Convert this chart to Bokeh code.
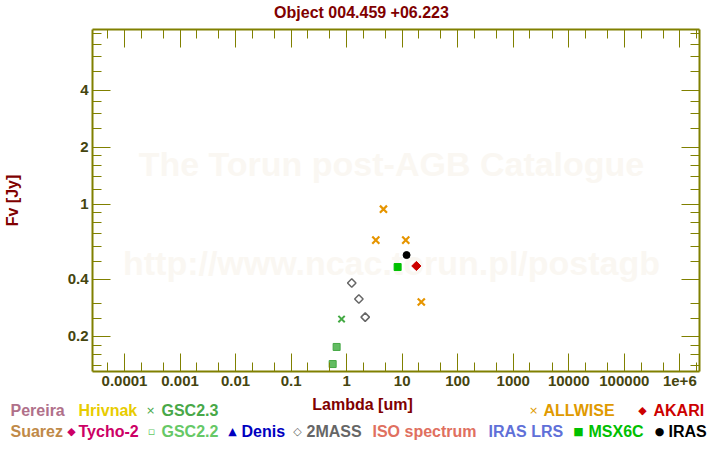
import math
from bokeh.plotting import figure
from bokeh.layouts import column
from bokeh.models import (Range1d, LogAxis, FixedTicker, CustomJSTickFormatter, Label,
                          ColumnDataSource)
from bokeh.core.properties import value
from bokeh.embed import file_html
from bokeh.resources import INLINE

# ---------------- data ----------------
title_text = "Object 004.459 +06.223"
x_label = "Lambda [um]"
y_label = "Fv [Jy]"
watermark_lines = ["The Torun post-AGB Catalogue", "http://www.ncac.torun.pl/postagb"]

x_tick_values = [1e-4, 1e-3, 1e-2, 1e-1, 1, 10, 100, 1e3, 1e4, 1e5, 1e6]
x_tick_labels = ["0.0001", "0.001", "0.01", "0.1", "1", "10", "100", "1000", "10000", "100000", "1e+6"]
x_minor_values = [5e-5, 2e-4, 5e-4, 2e-3, 5e-3, 2e-2, 5e-2, 0.2, 0.5, 2, 5, 20, 50,
                  200, 500, 2e3, 5e3, 2e4, 5e4, 2e5, 5e5, 2e6]
y_tick_values = [0.2, 0.4, 1, 2, 4]
y_tick_labels = ["0.2", "0.4", "1", "2", "4"]
y_minor_values = [0.14, 0.16, 0.18, 0.25, 0.3, 0.5, 0.6, 0.7, 0.8, 0.9,
                  1.2, 1.4, 1.6, 1.8, 2.5, 3, 3.5, 5, 6, 7, 8]

allwise_wl = [3.35, 4.6, 11.6, 22.1]
allwise_fl = [0.645, 0.94, 0.645, 0.304]
akari_wl = [18.0]
akari_fl = [0.471]
msx_wl = [8.28]
msx_fl = [0.465]
iras_wl = [12.0]
iras_fl = [0.538]
twomass_wl = [1.235, 1.66, 2.16]
twomass_fl = [0.383, 0.315, 0.253]
gsc23_wl = [0.81]
gsc23_fl = [0.247]
gsc22_wl = [0.56, 0.66]
gsc22_fl = [0.143, 0.176]

legend_names = ["Pereira", "Hrivnak", "GSC2.3", "ALLWISE", "AKARI",
                "Suarez", "Tycho-2", "GSC2.2", "Denis", "2MASS",
                "ISO spectrum", "IRAS LRS", "MSX6C", "IRAS"]
legend_colors = ["#B0708A", "#E8CC00", "#48A848", "#E09A00", "#CC0000",
                 "#C08A48", "#CC0066", "#66C866", "#0000C0", "#666666",
                 "#E07060", "#6070D8", "#00C000", "#000000"]
legend_symbols = ["", "", "\u00d7", "\u00d7", "\u25c6",
                  "", "\u25c6", "\u25ab", "\u25b2", "\u25c7",
                  "", "", "\u25a0", "\u25cf"]

# ---------------- layout (styles / positions) ----------------
W = 720
TOP_H, MAIN_H, BOT_H = 22, 374, 54          # stacked: 22 + 374 + 54 = 450
FL, FR, FT, FB = 92, 699, 29, 371           # frame edges in page px
legend_layout = [  # (symbol_x, text_x, row_y) in page px
    (None, 10, 410), (None, 78, 410), (150, 161, 410), (533, 543, 410), (642, 653, 410),
    (None, 10, 431), (71, 78, 431), (151, 161, 431), (232, 241, 431), (297, 306, 431),
    (None, 372, 431), (None, 488, 431), (578, 588, 431), (659, 668, 431),
]

FONT = "Liberation Sans"
AXIS_COLOR = "#808000"
TICK_TEXT = "#45450f"
DARK_RED = "#800000"


def blank_fig(h, y0, y1):
    f = figure(width=W, height=h, x_range=Range1d(0, W), y_range=Range1d(y1, y0),
               x_axis_location=None, y_axis_location=None, toolbar_location=None,
               output_backend="svg", min_border=0, frame_align=False)
    f.grid.visible = False
    f.outline_line_color = None
    f.background_fill_color = "white"
    f.border_fill_color = "white"
    return f


# ---------- title strip ----------
top_fig = blank_fig(TOP_H, 0, TOP_H)
top_fig.text(x=[361], y=[12], text=[title_text], text_align="center", text_baseline="middle",
             text_font=value(FONT), text_font_style="bold", text_font_size="16px",
             text_color=DARK_RED)

# ---------- main plot ----------
p = figure(width=W, height=MAIN_H, x_axis_type="log", y_axis_type="log",
           x_range=Range1d(2.65e-5, 2.26e6), y_range=Range1d(0.1306, 8.35),
           output_backend="svg", toolbar_location=None, frame_align=False,
           min_border_left=FL, min_border_right=W - FR,
           min_border_top=FT - TOP_H, min_border_bottom=TOP_H + MAIN_H - FB)
p.grid.visible = False
p.outline_line_color = None
p.background_fill_color = "white"
p.border_fill_color = "white"

fmt_code = """
for (let i = 0; i < vals.length; i++) {
  if (Math.abs(Math.log10(tick) - Math.log10(vals[i])) < 1e-6) return labs[i];
}
return "";
"""


def style_axis(ax, show_labels):
    ax.axis_line_color = AXIS_COLOR
    ax.axis_line_width = 2
    ax.major_tick_line_color = AXIS_COLOR
    ax.minor_tick_line_color = AXIS_COLOR
    ax.major_tick_line_width = 1
    ax.minor_tick_line_width = 1
    ax.major_tick_in = 18
    ax.major_tick_out = 0
    ax.minor_tick_in = 9
    ax.minor_tick_out = 0
    ax.major_label_text_font = FONT
    ax.major_label_text_font_style = "bold"
    if show_labels:
        ax.major_label_text_font_size = "15px"
        ax.major_label_text_color = TICK_TEXT
        ax.major_label_standoff = 4
    else:
        ax.major_label_text_font_size = "1px"
        ax.major_label_text_color = None
        ax.major_label_standoff = 0


xf = CustomJSTickFormatter(args=dict(vals=x_tick_values, labs=x_tick_labels), code=fmt_code)
yf = CustomJSTickFormatter(args=dict(vals=y_tick_values, labs=y_tick_labels), code=fmt_code)
blank = CustomJSTickFormatter(code="return '';")

p.xaxis[0].ticker = FixedTicker(ticks=x_tick_values, minor_ticks=x_minor_values)
p.xaxis[0].formatter = xf
p.yaxis[0].ticker = FixedTicker(ticks=y_tick_values, minor_ticks=y_minor_values)
p.yaxis[0].formatter = yf
style_axis(p.xaxis[0], True)
style_axis(p.yaxis[0], True)
p.yaxis[0].axis_label = y_label
p.yaxis[0].axis_label_text_font = FONT
p.yaxis[0].axis_label_text_font_style = "bold"
p.yaxis[0].axis_label_text_font_size = "16px"
p.yaxis[0].axis_label_text_color = DARK_RED
p.yaxis[0].axis_label_standoff = 44

top = LogAxis(ticker=FixedTicker(ticks=x_tick_values, minor_ticks=x_minor_values), formatter=blank)
right = LogAxis(ticker=FixedTicker(ticks=y_tick_values, minor_ticks=y_minor_values), formatter=blank)
style_axis(top, False)
style_axis(right, False)
p.add_layout(top, "above")
p.add_layout(right, "right")

# watermark (behind the data)
for txt, cy in zip(watermark_lines, [163, 262]):
    p.add_layout(Label(x=391 - FL, y=FB - cy, x_units="screen", y_units="screen",
                       text=txt, text_align="center", text_baseline="middle",
                       text_font=FONT, text_font_style="bold", text_font_size="34px",
                       text_color="#FAF7F2", level="underlay"))

# data
p.scatter(gsc22_wl, gsc22_fl, marker="square", size=7, fill_color="#62BC62",
          line_color="#44A844", line_width=1)
p.scatter(gsc23_wl, gsc23_fl, marker="x", size=9, line_color="#44AA44", line_width=2)
p.scatter(twomass_wl, twomass_fl, marker="square", angle=math.pi / 4, size=6,
          fill_color=None, line_color="#666666", line_width=1.5)
p.scatter(msx_wl, msx_fl, marker="square", size=7, fill_color="#00C000",
          line_color="#00C000", line_width=1)
p.scatter(akari_wl, akari_fl, marker="square", angle=math.pi / 4, size=6.5,
          fill_color="#CC0000", line_color="#CC0000", line_width=1)
p.scatter(iras_wl, iras_fl, marker="circle", size=7, fill_color="#000000",
          line_color="#000000")
p.scatter(allwise_wl, allwise_fl, marker="x", size=10, line_color="#E69500",
          line_width=2.2)

# ---------- bottom strip: x label + legend ----------
y0 = TOP_H + MAIN_H
bot = blank_fig(BOT_H, y0, y0 + BOT_H)
bot.text(x=[362], y=[404], text=[x_label], text_align="center", text_baseline="middle",
         text_font=value(FONT), text_font_style="bold", text_font_size="16px",
         text_color=DARK_RED)

sym_src = ColumnDataSource(dict(
    x=[lay[0] for lay, s in zip(legend_layout, legend_symbols) if s],
    y=[lay[2] for lay, s in zip(legend_layout, legend_symbols) if s],
    t=[s for s in legend_symbols if s],
    c=[c for c, s in zip(legend_colors, legend_symbols) if s]))
txt_src = ColumnDataSource(dict(
    x=[lay[1] for lay in legend_layout],
    y=[lay[2] for lay in legend_layout],
    t=legend_names, c=legend_colors))
bot.text(x="x", y="y", text="t", text_color="c", source=sym_src, text_align="center",
         text_baseline="middle", text_font=value("DejaVu Sans"), text_font_size="11px")
bot.text(x="x", y="y", text="t", text_color="c", source=txt_src, text_align="left",
         text_baseline="middle", text_font=value(FONT), text_font_style="bold",
         text_font_size="16px")

layout = column(top_fig, p, bot, spacing=0)
open("out.html", "w").write(file_html(layout, INLINE))
